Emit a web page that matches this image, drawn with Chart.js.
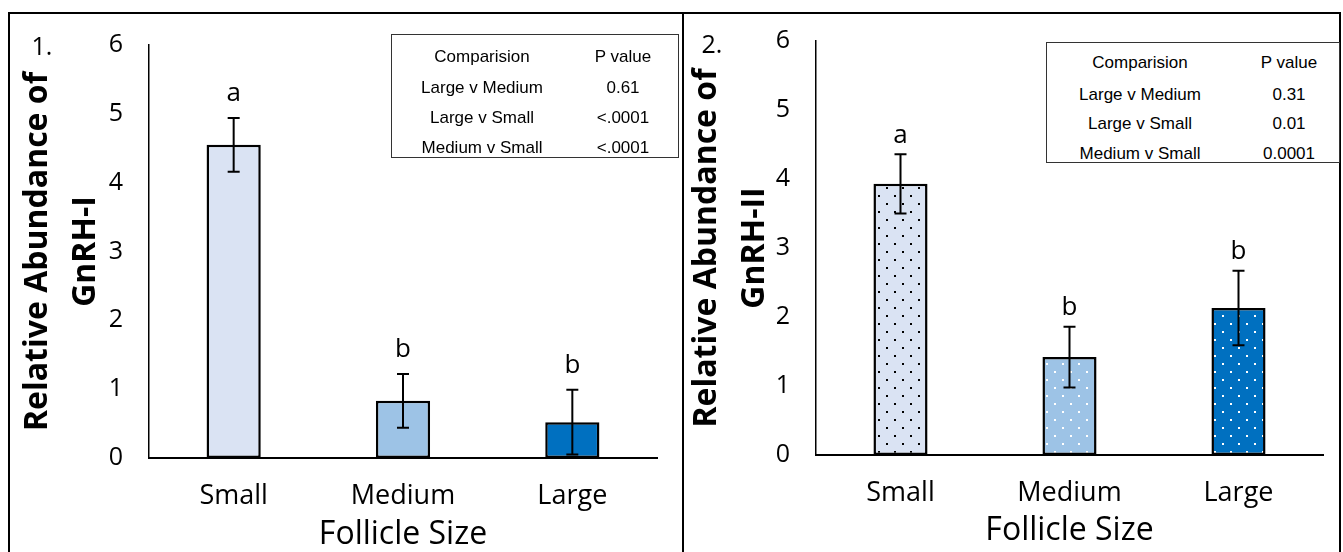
<!DOCTYPE html>
<html>
<head>
<meta charset="utf-8">
<script src="https://cdn.jsdelivr.net/npm/chart.js@4.4.0/dist/chart.umd.min.js"></script>
<style>
  html, body { margin: 0; padding: 0; background: #fff; }
  #page { position: relative; width: 1343px; height: 552px; overflow: hidden; }
  canvas { position: absolute; top: 0; }
  #chart1 { left: 0; }
  #chart2 { left: 683px; }
  .rule { position: absolute; background: #000; }
  .ptable {
    position: absolute; box-sizing: border-box; border: 1.5px solid #333;
    background: #fff; overflow: hidden; color: #000;
    font-family: "Liberation Sans", Arial, sans-serif; font-size: 17px;
  }
  .cell { position: absolute; transform: translate(-50%, -50%); white-space: nowrap; }
  .panelNo { position: absolute; transform: translate(-50%, -50%); font-family: "Open Sans", sans-serif; font-size: 25px; color: #000; }
</style>
</head>
<body>
<div id="page">
  <canvas id="chart1" width="683" height="552"></canvas>
  <canvas id="chart2" width="660" height="552"></canvas>

  <div class="rule" style="left:8px; top:12px; width:1333px; height:2px;"></div>
  <div class="rule" style="left:8px; top:12px; width:2px; height:540px;"></div>
  <div class="rule" style="left:682px; top:12px; width:2px; height:540px;"></div>
  <div class="rule" style="left:1339px; top:12px; width:2px; height:540px;"></div>

  <div class="panelNo" style="left:42px; top:45px;">1.</div>
  <div class="panelNo" style="left:712px; top:43px;">2.</div>

  <div class="ptable" id="table1" style="left:391px; top:34px; width:288px; height:124px;"></div>
  <div class="ptable" id="table2" style="left:1046px; top:42px; width:294px; height:121px;"></div>
</div>

<script>
// data
const categories = ['Small', 'Medium', 'Large'];
const yTicks = [0, 1, 2, 3, 4, 5, 6];

const gnrh1Mean = [4.55, 0.83, 0.52];
const gnrh1Err = [0.39, 0.39, 0.47];
const gnrh1Letters = ['a', 'b', 'b'];

const gnrh2Mean = [3.93, 1.42, 2.13];
const gnrh2Err = [0.43, 0.44, 0.54];
const gnrh2Letters = ['a', 'b', 'b'];

const tableHeader = ['Comparision', 'P value'];
const comparisons = ['Large v Medium', 'Large v Small', 'Medium v Small'];
const gnrh1P = ['0.61', '<.0001', '<.0001'];
const gnrh2P = ['0.31', '0.01', '0.0001'];

const barColors = ['#DAE3F3', '#9DC3E6', '#0070C0'];
const dotColors = ['#000000', '#ffffff', '#ffffff'];

// small staggered-dot fill like Excel's "dotted" pattern
function dotPattern(bg, dot) {
  const c = document.createElement('canvas');
  c.width = 16; c.height = 16;
  const g = c.getContext('2d');
  g.fillStyle = bg;
  g.fillRect(0, 0, 16, 16);
  g.fillStyle = dot;
  g.fillRect(3, 3, 2, 2);
  g.fillRect(11, 11, 2, 2);
  return g.createPattern(c, 'repeat');
}

function buildTable(id, values, rowY, colX) {
  const box = document.getElementById(id);
  const rows = [tableHeader].concat(comparisons.map((c, i) => [c, values[i]]));
  rows.forEach((row, r) => {
    row.forEach((txt, c) => {
      const d = document.createElement('div');
      d.className = 'cell';
      d.style.left = colX[c] + 'px';
      d.style.top = rowY[r] + 'px';
      d.textContent = txt;
      box.appendChild(d);
    });
  });
}

function errorBars(means, errs, letters, letterGap) {
  return {
    id: 'errorBars',
    afterDatasetsDraw(chart) {
      const ctx = chart.ctx;
      const y = chart.scales.y;
      const bars = chart.getDatasetMeta(0).data;
      ctx.save();
      ctx.strokeStyle = '#000';
      ctx.fillStyle = '#000';
      ctx.lineWidth = 2;
      ctx.font = '26px "Open Sans"';
      ctx.textAlign = 'center';
      ctx.textBaseline = 'middle';
      bars.forEach((bar, i) => {
        const top = y.getPixelForValue(means[i] + errs[i]);
        const bot = y.getPixelForValue(means[i] - errs[i]);
        ctx.beginPath();
        ctx.moveTo(bar.x, top); ctx.lineTo(bar.x, bot);
        ctx.moveTo(bar.x - 6, top); ctx.lineTo(bar.x + 6, top);
        ctx.moveTo(bar.x - 6, bot); ctx.lineTo(bar.x + 6, bot);
        ctx.stroke();
        ctx.fillText(letters[i], bar.x, top - letterGap);
      });
      ctx.restore();
    }
  };
}

function makeChart(id, p) {
  return new Chart(document.getElementById(id), {
    type: 'bar',
    data: {
      labels: categories,
      datasets: [{
        data: p.means,
        backgroundColor: p.fill,
        borderColor: '#000',
        borderWidth: 2.5,
        borderSkipped: false,
        categoryPercentage: 1,
        barPercentage: 0.32
      }]
    },
    options: {
      responsive: false,
      animation: false,
      layout: { padding: { top: p.top, right: p.right, left: 0, bottom: 0 } },
      plugins: { legend: { display: false }, tooltip: { enabled: false } },
      scales: {
        x: {
          grid: { display: false, drawTicks: false },
          border: { color: '#000', width: 2 },
          ticks: { color: '#000', font: { family: 'Open Sans', size: 27 }, padding: 22 },
          title: {
            display: true, text: 'Follicle Size', color: '#000',
            font: { family: 'Open Sans', size: 32, lineHeight: 1 },
            padding: { top: 0, bottom: p.xTitlePad }
          },
          afterFit(scale) { scale.height = p.xHeight; }
        },
        y: {
          min: 0, max: 6,
          grid: { display: false, drawTicks: false },
          border: { color: '#000', width: 1.5 },
          ticks: { color: '#000', font: { family: 'Open Sans', size: 25 }, padding: 26 },
          title: {
            display: true, text: ['Relative Abundance of', p.gene], color: '#000',
            font: { family: 'Open Sans', size: 32, weight: 'bold', lineHeight: 1.5 },
            padding: { top: p.yTitlePad, bottom: 0 }
          },
          afterFit(scale) { scale.width = p.yWidth; },
          afterBuildTicks(scale) { scale.ticks = yTicks.map(v => ({ value: v })); }
        }
      }
    },
    plugins: [errorBars(p.means, p.errs, p.letters, p.letterGap)]
  });
}

makeChart('chart1', {
  means: gnrh1Mean, errs: gnrh1Err, letters: gnrh1Letters, gene: 'GnRH-I',
  fill: barColors,
  top: 45, right: 26, yWidth: 149, xHeight: 94, xTitlePad: 1, yTitlePad: 14, letterGap: 24
});

makeChart('chart2', {
  means: gnrh2Mean, errs: gnrh2Err, letters: gnrh2Letters, gene: 'GnRH-II',
  fill: barColors.map((c, i) => dotPattern(c, dotColors[i])),
  top: 40, right: 20, yWidth: 133, xHeight: 97, xTitlePad: 5, yTitlePad: 0, letterGap: 19
});

buildTable('table1', gnrh1P, [22, 53, 83, 113], [90, 231]);
buildTable('table2', gnrh2P, [20, 52, 81, 111], [93, 242]);
</script>
</body>
</html>
